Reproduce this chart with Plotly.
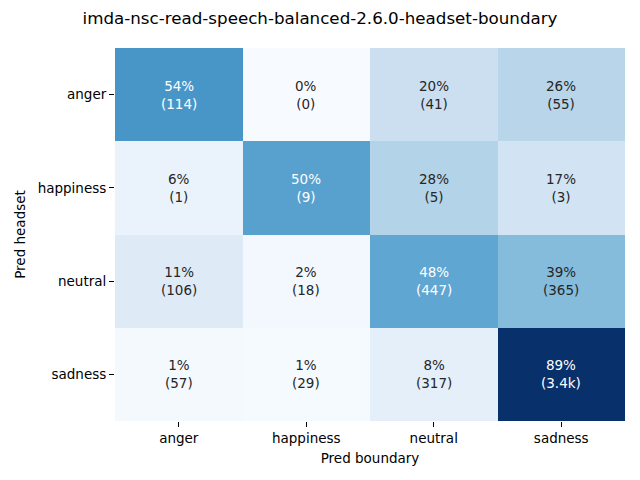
import plotly.graph_objects as go

labels_y = ["anger", "happiness", "neutral", "sadness"]
labels_x = ["anger", "happiness", "neutral", "sadness"]
pct = [
    [0.543, 0.000, 0.195, 0.262],
    [0.056, 0.500, 0.278, 0.167],
    [0.113, 0.019, 0.478, 0.390],
    [0.014, 0.008, 0.083, 0.894],
]
counts = [
    ["114", "0", "41", "55"],
    ["1", "9", "5", "3"],
    ["106", "18", "447", "365"],
    ["57", "29", "317", "3.4k"],
]
title = "imda-nsc-read-speech-balanced-2.6.0-headset-boundary"

blues = ["#f7fbff", "#deebf7", "#c6dbef", "#9ecae1", "#6baed6",
         "#4292c6", "#2171b5", "#08519c", "#08306b"]
zmin = min(min(r) for r in pct)
zmax = max(max(r) for r in pct)
cscale = [[k / (len(blues) - 1), c] for k, c in enumerate(blues)]

fig = go.Figure(go.Heatmap(
    z=pct, x=labels_x, y=labels_y,
    colorscale=cscale, zmin=zmin, zmax=zmax, showscale=False,
    hoverinfo="skip",
))

def h2r(h):
    h = h.lstrip("#")
    return [int(h[k:k + 2], 16) for k in (0, 2, 4)]

def lum(v):
    t = (v - zmin) / (zmax - zmin)
    n = len(blues) - 1
    i = min(int(t * n), n - 1)
    f = t * n - i
    a = h2r(blues[i]); b = h2r(blues[i + 1])
    rgb = [(a[k] + (b[k] - a[k]) * f) / 255 for k in range(3)]
    lin = [x / 12.92 if x <= 0.03928 else ((x + 0.055) / 1.055) ** 2.4 for x in rgb]
    return 0.2126 * lin[0] + 0.7152 * lin[1] + 0.0722 * lin[2]

for i, ry in enumerate(labels_y):
    for j, cx in enumerate(labels_x):
        v = pct[i][j]
        col = "#262626" if lum(v) > 0.408 else "white"
        fig.add_annotation(x=cx, y=ry, text=f"{round(v*100):.0f}%<br>({counts[i][j]})",
                           showarrow=False, font=dict(color=col, size=13.5))

fig.update_layout(
    width=640, height=480,
    margin=dict(l=115, r=15, t=48, b=59),
    paper_bgcolor="white", plot_bgcolor="white",
    font=dict(family="DejaVu Sans", size=13.5, color="black"),
    title=dict(text=title, x=0.5, xanchor="center", y=1 - 18 / 480, yanchor="middle",
               font=dict(size=16.7)),
    xaxis=dict(title=dict(text="Pred boundary", standoff=8, font=dict(size=13.5)),
               ticks="outside", ticklen=5, tickfont=dict(size=13.5),
               tickcolor="black", showgrid=False, zeroline=False, showline=False),
    yaxis=dict(title=dict(text="Pred headset", standoff=8, font=dict(size=13.5)),
               ticks="outside", ticklen=5, tickfont=dict(size=13.5),
               tickcolor="black", showgrid=False, zeroline=False, showline=False,
               autorange="reversed"),
)

fig.write_html("out.html")
